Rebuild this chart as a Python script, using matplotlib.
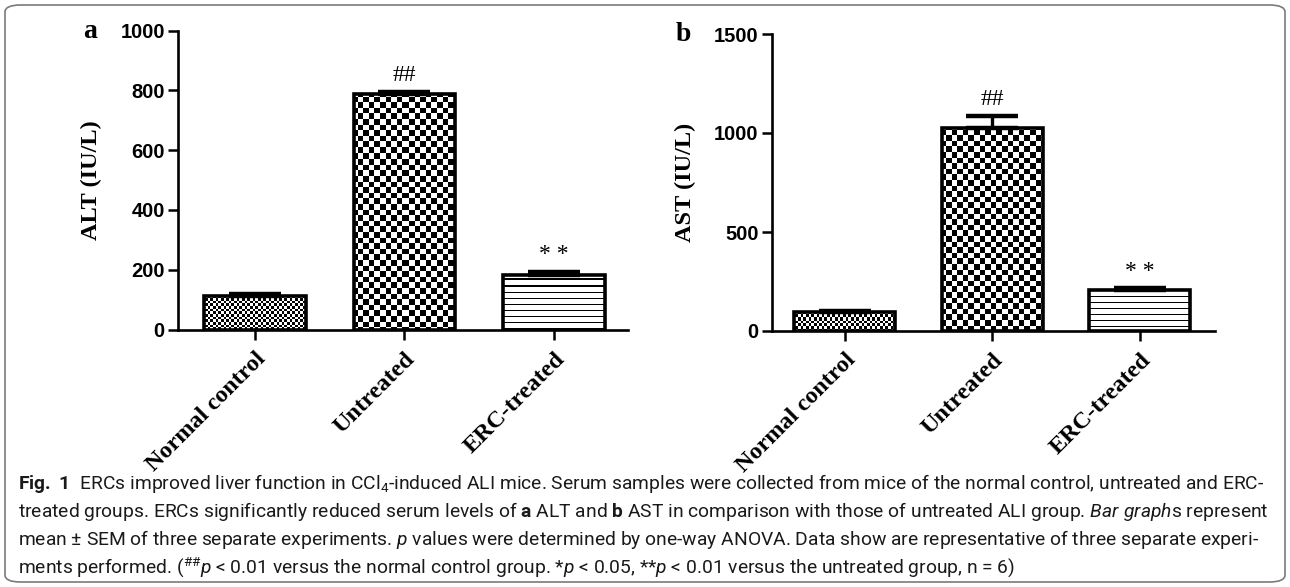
import numpy as np
import matplotlib
matplotlib.use("Agg")
import matplotlib.pyplot as plt
from matplotlib.patches import FancyBboxPatch

# ---------------- data ----------------
groups = ["Normal control", "Untreated", "ERC-treated"]
alt_mean = [112, 787, 182]
alt_sem = [6, 8, 12]
ast_mean = [97, 1025, 205]
ast_sem = [5, 60, 14]
marks = ["", "##", "**"]
alt_ticks = [0, 200, 400, 600, 800, 1000]
ast_ticks = [0, 500, 1000, 1500]

caption_lines = [
    r"$\mathbf{Fig.\ 1}$  ERCs improved liver function in CCl$_4$-induced ALI mice. Serum samples were collected from mice of the normal control, untreated and ERC-",
    r"treated groups. ERCs significantly reduced serum levels of $\mathbf{a}$ ALT and $\mathbf{b}$ AST in comparison with those of untreated ALI group. $\mathit{Bar\ graph}$s represent",
    r"mean $\pm$ SEM of three separate experiments. $\mathit{p}$ values were determined by one-way ANOVA. Data show are representative of three separate experi-",
    r"ments performed. (${}^{\#\#}\mathit{p}$ < 0.01 versus the normal control group. *$\mathit{p}$ < 0.05, **$\mathit{p}$ < 0.01 versus the untreated group, n = 6)",
]

W, H, DPI = 1290, 587, 100
SERIF = "Liberation Serif"
SANS = "Liberation Sans"
CAPFONT = "Roboto"

plt.rcParams["mathtext.fontset"] = "custom"
plt.rcParams["mathtext.rm"] = CAPFONT
plt.rcParams["mathtext.it"] = CAPFONT + ":italic"
plt.rcParams["mathtext.bf"] = CAPFONT + ":bold"

fig = plt.figure(figsize=(W / DPI, H / DPI), dpi=DPI)

# rounded border
border = FancyBboxPatch((5 / W, 5 / H), 1 - 10 / W, 1 - 10 / H,
                        boxstyle="round,pad=0,rounding_size=0.012",
                        transform=fig.transFigure, fill=False,
                        edgecolor="#7a7a7a", linewidth=1.2)
fig.patches.append(border)


def px_rect(x0, x1, ytop, ybot):
    return [x0 / W, 1 - ybot / H, (x1 - x0) / W, (ybot - ytop) / H]


ax_a = fig.add_axes(px_rect(178, 628, 30.7, 329.5))
ax_b = fig.add_axes(px_rect(771.7, 1215, 34, 331))


def texture(kind, w, h):
    yy, xx = np.mgrid[0:h, 0:w].astype(float)
    if kind == 0:
        c = 2.65
        t = ((np.floor(xx / c) + np.floor(yy / c)) % 2)
    elif kind == 1:
        c = 5.6
        t = ((np.floor(xx / c) + np.floor(yy / c)) % 2)
    else:
        p = 6.1
        t = (np.floor(yy / p) != np.floor((yy + 1.2) / p)).astype(float)
    return t


def panel(ax, means, sems, ticks, ylabel, xlim, width, ylabx):
    x = np.arange(len(groups))
    bars = ax.bar(x, means, width=width, facecolor="none", edgecolor="black",
                  linewidth=2.6, zorder=3)
    ax.errorbar(x, means, yerr=[np.zeros(len(sems)), sems], fmt="none",
                ecolor="black", elinewidth=2.4, capsize=19, capthick=3.2,
                zorder=2)
    bw = int(round(ax.bbox.width))
    bh = int(round(ax.bbox.height))
    for i, b in enumerate(bars):
        im = ax.imshow(texture(i, bw, bh), cmap="gray_r", vmin=0, vmax=1,
                       extent=(0, 1, 0, 1), transform=ax.transAxes,
                       aspect="auto", interpolation="nearest", zorder=1)
        im.set_clip_path(b)
    for i, m in enumerate(marks):
        if m:
            txt = m if m != "**" else "* *"
            ax.annotate(txt, xy=(x[i], means[i] + sems[i]), xytext=(0, 8),
                        textcoords="offset points", ha="center", va="baseline",
                        fontfamily=SERIF, fontsize=17)
    ax.set_xlim(*xlim)
    ax.set_ylim(0, ticks[-1])
    ax.set_yticks(ticks)
    ax.set_yticklabels([str(t) for t in ticks], fontfamily=SANS,
                       fontweight="bold", fontsize=14.5)
    ax.set_xticks(x)
    ax.set_xticklabels(groups, fontfamily=SERIF, fontweight="bold",
                       fontsize=17.5, rotation=45, ha="right", va="top",
                       rotation_mode="anchor")
    ax.tick_params(axis="both", direction="out", length=7.5, width=1.8,
                   color="black")
    ax.tick_params(axis="y", pad=2)
    ax.tick_params(axis="x", pad=6)
    for s in ("top", "right"):
        ax.spines[s].set_visible(False)
    for s in ("left", "bottom"):
        ax.spines[s].set_linewidth(1.9)
    ax.set_ylabel(ylabel, fontfamily=SERIF, fontweight="bold", fontsize=17.5)
    ax.yaxis.set_label_coords(ylabx, 0.5)
    ax.patch.set_visible(False)


panel(ax_a, alt_mean, alt_sem, alt_ticks, "ALT (IU/L)",
      (-0.515, 2.495), 0.68, -76 / 450)
panel(ax_b, ast_mean, ast_sem, ast_ticks, "AST (IU/L)",
      (-0.497, 2.51), 0.685, -76 / 443.3)

fig.text(90 / W, 1 - 38 / H, "a", fontfamily=SERIF, fontweight="bold",
         fontsize=20, ha="center", va="baseline")
fig.text(683 / W, 1 - 41 / H, "b", fontfamily=SERIF, fontweight="bold",
         fontsize=20, ha="center", va="baseline")

# caption
renderer = fig.canvas.get_renderer()
base = 12.0
probe = fig.text(0, 0, caption_lines[0], fontfamily=CAPFONT, fontsize=base)
wpx = probe.get_window_extent(renderer=renderer).width
probe.remove()
cap_size = base * (1244 / wpx)
baselines = [489, 517, 545, 573]
for line, yb in zip(caption_lines, baselines):
    fig.text(18 / W, 1 - yb / H, line, fontfamily=CAPFONT, fontsize=cap_size,
             ha="left", va="baseline", color="#1a1a1a")

fig.savefig("out.png", dpi=DPI)
